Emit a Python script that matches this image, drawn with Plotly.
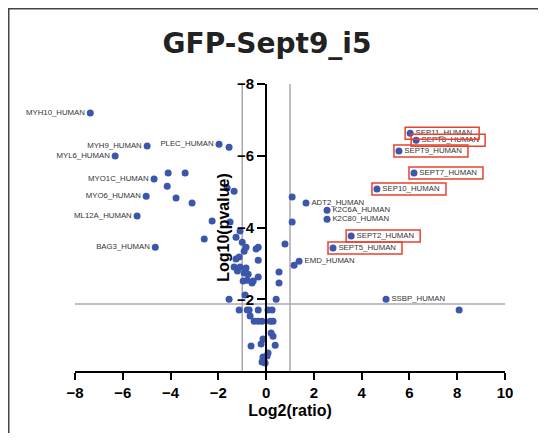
import plotly.graph_objects as go

# ---------------- data ----------------
left_names = ["MYH10_HUMAN", "MYH9_HUMAN", "PLEC_HUMAN", "MYL6_HUMAN",
              "MYO1C_HUMAN", "MYO6_HUMAN", "ML12A_HUMAN", "BAG3_HUMAN"]
left_x = [-7.36, -4.98, -1.97, -6.32, -4.69, -5.02, -5.40, -4.64]
left_y = [-7.19, -6.27, -6.32, -5.99, -5.35, -4.87, -4.32, -3.45]

right_names = ["ADT2_HUMAN", "K2C6A_HUMAN", "K2C80_HUMAN", "EMD_HUMAN", "SSBP_HUMAN"]
right_x = [1.67, 2.55, 2.55, 1.38, 5.02]
right_y = [-4.68, -4.48, -4.23, -3.06, -2.00]

sept_names = ["SEP11_HUMAN", "SEPT8_HUMAN", "SEPT9_HUMAN", "SEPT7_HUMAN",
              "SEP10_HUMAN", "SEPT2_HUMAN", "SEPT5_HUMAN"]
sept_x = [6.03, 6.28, 5.56, 6.19, 4.64, 3.56, 2.80]
sept_y = [-6.63, -6.43, -6.13, -5.52, -5.07, -3.76, -3.43]

other_x = [-1.55, -4.10, -3.39, -4.14, -3.77, -3.10, -1.63, -1.34,
           -2.26, -1.51, -2.59, -1.09, -1.26, -1.00, -0.84, -0.92, -0.42, -0.33,
           -1.26, -1.13, -1.34, -1.09, -0.92, -0.75, -0.33, -0.79, -0.96, -0.59,
           -0.54, -0.88, -0.33, -1.20, -0.84, -1.55,
           -1.13, -0.79, -0.71, -0.33, 0.08, 0.25, -0.67, -0.50, -0.33, -0.17,
           0.17, 0.29, 0.21, 0.29, -0.13, -0.63, -0.21, 0.38, 0.08, 0.04,
           -0.13, -0.13, -0.17, -0.04,
           0.42, 0.54, 0.54, 1.17, 1.09, 1.09, 0.79, 8.08]
other_y = [-6.24, -5.52, -5.52, -5.15, -4.82, -4.68, -5.10, -5.01,
           -4.18, -4.15, -3.68, -3.90, -3.73, -3.59, -3.45, -3.34, -3.40, -3.45,
           -3.12, -3.18, -2.90, -2.90, -2.73, -2.70, -2.62, -2.53, -2.51, -2.45,
           -2.51, -2.12, -3.09, -2.79, -2.87, -2.00,
           -1.70, -1.70, -1.70, -1.70, -1.70, -1.70, -1.53, -1.39, -1.39, -1.39,
           -1.39, -1.39, -1.06, -0.97, -0.89, -0.70, -0.75, -0.72, -0.50, -0.42,
           -0.39, -0.31, -0.25, -0.22,
           -2.00, -2.45, -2.76, -2.95, -4.85, -4.15, -3.54, -1.70]

x_ticks = [-8, -6, -4, -2, 0, 2, 4, 6, 8, 10]
y_ticks = [-8, -6, -4, -2]
fc_cut = 1.0
p_cut = -1.87

# ---------------- style ----------------
PAGE = 8                      # browser default body margin
W, H = 546 - 2 * PAGE, 441 - 2 * PAGE
ML, MT = 75 - PAGE, 84 - PAGE
MR, MB = W - (505 - PAGE), H - (371 - PAGE)
BLUE = "#3b56ab"
LABEL_FONT = dict(family="Liberation Sans, Arial, sans-serif", size=7.8, color="#333333")
AX_FONT = dict(family="Liberation Sans, Arial, sans-serif", size=15, color="black", weight="bold")
TITLE_FONT = dict(family="Liberation Sans, Arial, sans-serif", size=16, color="black", weight="bold")
marker = dict(color=BLUE, size=7, line=dict(width=0))

fig = go.Figure()
fig.add_trace(go.Scatter(x=other_x, y=other_y, mode="markers", marker=marker,
                         hoverinfo="skip", showlegend=False, cliponaxis=False))
fig.add_trace(go.Scatter(x=left_x, y=left_y, mode="markers+text", marker=marker,
                         text=left_names, textposition="middle left", cliponaxis=False,
                         textfont=LABEL_FONT, showlegend=False))
fig.add_trace(go.Scatter(x=right_x, y=right_y, mode="markers+text", marker=marker,
                         text=right_names, textposition="middle right", cliponaxis=False,
                         textfont=LABEL_FONT, showlegend=False))
fig.add_trace(go.Scatter(x=sept_x, y=sept_y, mode="markers+text", marker=marker,
                         text=sept_names, textposition="middle right", cliponaxis=False,
                         textfont=LABEL_FONT, showlegend=False))

shapes = []
# threshold lines
for xv in (-fc_cut, fc_cut):
    shapes.append(dict(type="line", xref="x", yref="y", x0=xv, x1=xv,
                       y0=y_ticks[0], y1=0, line=dict(color="#a8a8b0", width=1.5),
                       layer="below"))
shapes.append(dict(type="line", xref="x", yref="y", x0=x_ticks[0], x1=x_ticks[-1],
                   y0=p_cut, y1=p_cut, line=dict(color="#a8a8b0", width=1.5),
                   layer="below"))
# red highlight boxes (pixel sized, anchored on each point)
for sx, sy in zip(sept_x, sept_y):
    shapes.append(dict(type="rect", xref="x", yref="y",
                       xsizemode="pixel", ysizemode="pixel",
                       xanchor=sx, yanchor=sy, x0=-5, x1=69, y0=-6, y1=6,
                       line=dict(color="#e8432e", width=1.5),
                       fillcolor="rgba(0,0,0,0)", layer="above"))
# outer frame (top and left edge)
pw, ph = W - ML - MR, H - MT - MB
def px2paper_x(p): return (p - ML) / pw
def px2paper_y(p): return (H - MB - p) / ph
shapes.append(dict(type="line", xref="paper", yref="paper",
                   x0=px2paper_x(0), x1=px2paper_x(W), y0=px2paper_y(0.75), y1=px2paper_y(0.75),
                   line=dict(color="#444444", width=1.5)))
shapes.append(dict(type="line", xref="paper", yref="paper",
                   x0=px2paper_x(0.75), x1=px2paper_x(0.75), y0=px2paper_y(0), y1=px2paper_y(H),
                   line=dict(color="#444444", width=1.5)))

fig.update_layout(
    width=W, height=H,
    margin=dict(l=ML, r=MR, t=MT, b=MB, autoexpand=False),
    paper_bgcolor="white", plot_bgcolor="white",
    shapes=shapes,
    title=dict(text="GFP-Sept9_i5", x=(267 - PAGE) / W, xanchor="center", xref="container",
               y=1 - (43 - PAGE) / H, yanchor="middle", yref="container",
               font=dict(family="DejaVu Sans, sans-serif", size=28, color="#222222",
                         weight="bold")),
    xaxis=dict(range=[x_ticks[0], x_ticks[-1]], tickvals=x_ticks, showgrid=False,
               zeroline=False, showline=True, linecolor="black", linewidth=2,
               ticks="outside", ticklen=7, tickwidth=2, tickcolor="black", automargin=False,
               tickfont=AX_FONT, title=dict(text="Log2(ratio)", font=TITLE_FONT, standoff=5)),
    yaxis=dict(range=[0, y_ticks[0]], tickvals=y_ticks, showgrid=False, zeroline=False,
               anchor="free", position=(0 - x_ticks[0]) / (x_ticks[-1] - x_ticks[0]),
               showline=True, linecolor="black", linewidth=2, automargin=False,
               ticks="outside", ticklen=8, tickwidth=2, tickcolor="black",
               tickfont=AX_FONT, title=dict(text="Log10(pvalue)", font=TITLE_FONT, standoff=2)),
)

fig.write_html("out.html")
